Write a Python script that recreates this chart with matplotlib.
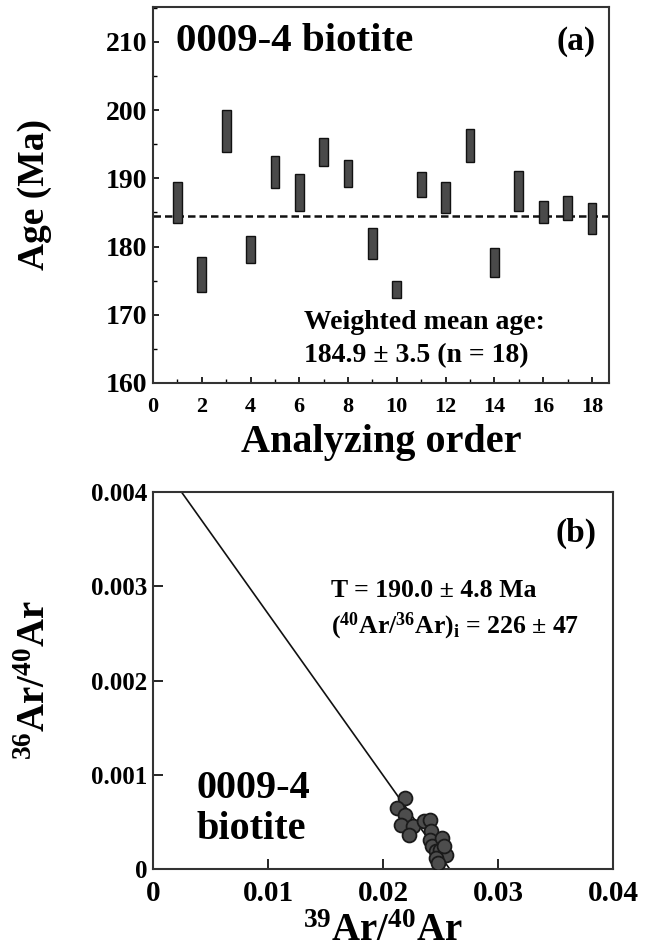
import numpy as np
import matplotlib
matplotlib.use('Agg')
import matplotlib.pyplot as plt
from matplotlib.ticker import MultipleLocator

plt.rcParams['font.family'] = ['Liberation Serif', 'DejaVu Serif']
plt.rcParams['font.weight'] = 'bold'
plt.rcParams['mathtext.fontset'] = 'custom'
plt.rcParams['mathtext.rm'] = 'Liberation Serif:bold'
plt.rcParams['mathtext.it'] = 'Liberation Serif:bold'
plt.rcParams['mathtext.bf'] = 'Liberation Serif:bold'
plt.rcParams['mathtext.default'] = 'rm'

# (a) step ages: top and bottom of each error bar (Ma)
order = list(range(1, 19))
age_hi = [189.5, 178.5, 200.0, 181.6, 193.3, 190.6, 195.9, 192.7, 182.7,
          175.0, 190.9, 189.5, 197.2, 179.8, 191.1, 186.7, 187.4, 186.4]
age_lo = [183.5, 173.4, 193.9, 177.6, 188.6, 185.2, 191.8, 188.7, 178.2,
          172.5, 187.3, 184.9, 192.4, 175.5, 185.2, 183.5, 183.9, 181.8]
mean_age = 184.5

# (b) isochron points
ar39_ar40 = [0.02192, 0.0212, 0.0219, 0.02156, 0.02263, 0.02227, 0.02353, 0.02406,
             0.02417, 0.02406, 0.02424, 0.0246, 0.02514, 0.02496, 0.0255, 0.0246,
             0.02478, 0.02532]
ar36_ar40 = [0.000753, 0.000647, 0.000576, 0.00047, 0.000453, 0.000364, 0.000506, 0.000523,
             0.0004, 0.000311, 0.00024, 0.000187, 0.000329, 0.000205, 0.000152, 0.000117,
             0.000064, 0.00024]
y_intercept = 1 / 226.0
x_intercept = 0.0258

fig = plt.figure(figsize=(6.45, 9.48), dpi=100)
ax1 = fig.add_axes([153/645, 1 - 383/948, 456/645, 376/948])
ax2 = fig.add_axes([153/645, 1 - 869/948, 460/645, 377/948])

# ---- panel (a)
heights = np.array(age_hi) - np.array(age_lo)
ax1.bar(order, heights, bottom=age_lo, width=0.36, color='#4a4a4a',
        edgecolor='#111111', linewidth=1.0, zorder=3)
ax1.axhline(mean_age, color='#111111', linestyle=(0, (3, 1.6)), linewidth=1.8, zorder=2)
ax1.set_xlim(0, 18.7)
ax1.set_ylim(160, 215.1)
ax1.xaxis.set_major_locator(MultipleLocator(2))
ax1.xaxis.set_minor_locator(MultipleLocator(1))
ax1.yaxis.set_major_locator(MultipleLocator(10))
ax1.yaxis.set_minor_locator(MultipleLocator(5))
ax1.tick_params(axis='x', which='both', direction='in', labelsize=16, pad=10)
ax1.tick_params(axis='y', which='both', direction='in', labelsize=20, pad=4)
ax1.tick_params(which='major', length=4, width=1.2)
ax1.tick_params(which='minor', length=3, width=1.0)
ax1.set_xlabel('Analyzing order', fontsize=29, fontweight='bold')
ax1.xaxis.set_label_coords(0.5, -0.108)
ax1.set_ylabel('Age (Ma)', fontsize=27, fontweight='bold')
ax1.yaxis.set_label_coords(-0.222, 0.5)
ax1.text(0.051, 210, '0009-4 biotite', fontsize=29.5, fontweight='bold',
         transform=ax1.get_yaxis_transform(), ha='left', va='center')
ax1.text(0.971, 210, '(a)', fontsize=24, fontweight='bold',
         transform=ax1.get_yaxis_transform(), ha='right', va='center')
ax1.text(0.331, 168.8, 'Weighted mean age:', fontsize=20, fontweight='bold',
         transform=ax1.get_yaxis_transform(), ha='left', va='center')
ax1.text(0.331, 164.0, '184.9 \u00b1 3.5 (n = 18)', fontsize=20, fontweight='bold',
         transform=ax1.get_yaxis_transform(), ha='left', va='center')

# ---- panel (b)
xl = np.array([0.0, x_intercept])
ax2.plot(xl, y_intercept - y_intercept / x_intercept * xl, color='#111111',
         linewidth=1.2, zorder=2)
ax2.scatter(ar39_ar40, ar36_ar40, s=100, color='#4d4d4d', edgecolor='#1a1a1a',
            linewidth=1.3, zorder=3)
ax2.set_xlim(0, 0.04)
ax2.set_ylim(0, 0.004)
ax2.set_xticks([0, 0.01, 0.02, 0.03, 0.04])
ax2.set_xticklabels(['0', '0.01', '0.02', '0.03', '0.04'])
ax2.set_yticks([0, 0.001, 0.002, 0.003, 0.004])
ax2.set_yticklabels(['0', '0.001', '0.002', '0.003', '0.004'])
ax2.tick_params(axis='x', direction='in', labelsize=21, pad=8, length=7, width=1.2)
ax2.tick_params(axis='y', direction='in', labelsize=18, pad=4, length=7, width=1.2)
ax2.set_xlabel(r'$^{39}$Ar/$^{40}$Ar', fontsize=28, fontweight='bold', va='baseline')
ax2.xaxis.set_label_coords(0.5, -0.19)
ax2.set_ylabel(r'$^{36}$Ar/$^{40}$Ar', fontsize=28, fontweight='bold')
ax2.yaxis.set_label_coords(-0.215, 0.5)
ax2.text(0.387, 0.002957, 'T = 190.0 \u00b1 4.8 Ma', fontsize=18.5, fontweight='bold',
         transform=ax2.get_yaxis_transform(), ha='left', va='center')
ax2.text(0.387, 0.002575, r'($^{40}$Ar/$^{36}$Ar)$_{\rm i}$ = 226 $\pm$ 47', fontsize=18.5,
         fontweight='bold', transform=ax2.get_yaxis_transform(), ha='left', va='center')
ax2.text(0.964, 0.003565, '(b)', fontsize=24, fontweight='bold',
         transform=ax2.get_yaxis_transform(), ha='right', va='center')
ax2.text(0.094, 0.00085, '0009-4', fontsize=29, fontweight='bold',
         transform=ax2.get_yaxis_transform(), ha='left', va='center')
ax2.text(0.094, 0.00042, 'biotite', fontsize=29, fontweight='bold',
         transform=ax2.get_yaxis_transform(), ha='left', va='center')

for ax in (ax1, ax2):
    for sp in ax.spines.values():
        sp.set_linewidth(1.5)
        sp.set_color('#333333')

fig.savefig('out.png', dpi=100)
